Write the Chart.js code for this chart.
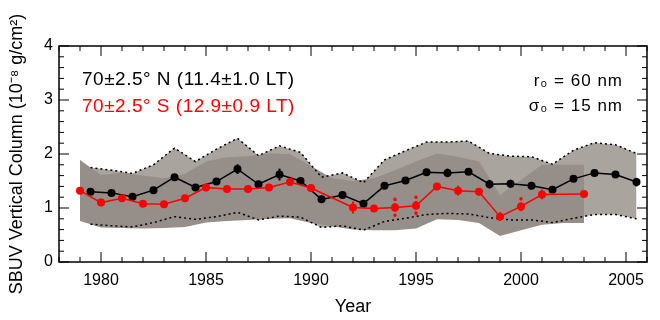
<!DOCTYPE html>
<html>
<head>
<meta charset="utf-8">
<script src="https://cdn.jsdelivr.net/npm/chart.js@4/dist/chart.umd.min.js"></script>
<style>
  body { margin: 0; background: #fff; }
</style>
</head>
<body>
<canvas id="myChart" width="660" height="320"></canvas>
<script>
// 70N series, half-year points
var nYears = [1979.5,1980.5,1981.5,1982.5,1983.5,1984.5,1985.5,1986.5,1987.5,1988.5,1989.5,1990.5,1991.5,1992.5,
              1993.5,1994.5,1995.5,1996.5,1997.5,1998.5,1999.5,2000.5,2001.5,2002.5,2003.5,2004.5,2005.5];
var nValues = [1.30,1.28,1.21,1.33,1.57,1.38,1.49,1.72,1.44,1.62,1.50,1.16,1.24,1.08,
               1.41,1.51,1.66,1.65,1.67,1.44,1.45,1.41,1.34,1.54,1.65,1.62,1.48];
var nErr = [0,0,0,0,0,0,0,0.09,0,0.11,0,0,0,0,
            0,0,0,0.08,0,0.08,0.07,0,0,0,0,0,0.08];
var nTop = [1.75,1.70,1.64,1.80,2.11,1.86,2.09,2.29,1.97,2.15,2.03,1.57,1.65,1.47,
            1.89,2.06,2.22,2.22,2.24,2.01,1.96,1.95,1.81,2.07,2.21,2.17,2.01];
var nBottom = [0.70,0.67,0.65,0.73,0.84,0.79,0.84,0.92,0.78,0.85,0.83,0.64,0.67,0.59,
               0.75,0.81,0.88,0.90,0.89,0.82,0.78,0.78,0.73,0.81,0.88,0.88,0.80];

// 70S series (no points in 1991 and 2002)
var sYears = [1979,1980,1981,1982,1983,1984,1985,1986,1987,1988,1989,1990,
              1992,1993,1994,1995,1996,1997,1998,1999,2000,2001,2003];
var sValues = [1.32,1.10,1.18,1.08,1.07,1.18,1.38,1.35,1.35,1.38,1.48,1.37,
               1.01,0.99,1.01,1.04,1.40,1.32,1.30,0.84,1.03,1.25,1.26];
var sErr = [0,0,0,0,0,0,0,0,0,0,0,0,
            0.11,0,0.15,0.16,0,0.09,0.07,0.08,0.14,0.09,0];
var sDottedYears = [1994,1995,2000];

// 70S band, yearly
var sBandYears = [1979,1980,1981,1982,1983,1984,1985,1986,1987,1988,1989,1990,1991,
                  1992,1993,1994,1995,1996,1997,1998,1999,2000,2001,2002,2003];
var sTop = [1.89,1.61,1.65,1.60,1.55,1.63,1.86,1.94,1.96,2.01,2.00,1.78,1.55,
            1.50,1.55,1.70,1.86,2.01,1.95,1.86,1.24,1.52,1.80,1.80,1.80];
var sBottom = [0.76,0.64,0.63,0.62,0.63,0.65,0.73,0.76,0.78,0.80,0.81,0.72,0.66,
               0.60,0.59,0.59,0.62,0.79,0.78,0.72,0.48,0.59,0.69,0.72,0.72];

var xTicks = [1980,1985,1990,1995,2000,2005];
var yTicks = [0,1,2,3,4];

function pts(xs, ys) {
  return xs.map(function (x, i) { return {x: x, y: ys[i]}; });
}

// frame with inward ticks (IDL style)
var frameTicks = {
  id: 'frameTicks',
  afterDatasetsDraw: function (chart) {
    var ctx = chart.ctx, a = chart.chartArea, x = chart.scales.x, y = chart.scales.y;
    ctx.save();
    ctx.strokeStyle = '#000';
    ctx.lineWidth = 1;
    ctx.beginPath();
    for (var v = 1978; v <= 2006; v++) {
      var px = x.getPixelForValue(v);
      var len = (v % 5 === 0) ? 10 : 5;
      ctx.moveTo(px, a.bottom); ctx.lineTo(px, a.bottom - len);
      ctx.moveTo(px, a.top); ctx.lineTo(px, a.top + len);
    }
    for (var k = 0; k <= 20; k++) {
      var py = y.getPixelForValue(k * 0.2);
      var l2 = (k % 5 === 0) ? 10 : 5;
      ctx.moveTo(a.left, py); ctx.lineTo(a.left + l2, py);
      ctx.moveTo(a.right, py); ctx.lineTo(a.right - l2, py);
    }
    ctx.stroke();
    ctx.lineWidth = 1.5;
    ctx.strokeRect(a.left, a.top, a.right - a.left, a.bottom - a.top);
    ctx.restore();
  }
};

// vertical error bars
var errorBars = {
  id: 'errorBars',
  afterDatasetsDraw: function (chart) {
    var ctx = chart.ctx, x = chart.scales.x, y = chart.scales.y;
    ctx.save();
    function bar(xv, yv, e, color, dotted) {
      if (!e) return;
      ctx.strokeStyle = color;
      ctx.lineWidth = dotted ? 3.5 : 2;
      ctx.lineCap = dotted ? 'round' : 'butt';
      ctx.setLineDash(dotted ? [0.1, 5.2] : []);
      ctx.beginPath();
      ctx.moveTo(x.getPixelForValue(xv), y.getPixelForValue(yv + e));
      ctx.lineTo(x.getPixelForValue(xv), y.getPixelForValue(yv - e));
      ctx.stroke();
    }
    nYears.forEach(function (yr, i) { bar(yr, nValues[i], nErr[i], '#000', false); });
    sYears.forEach(function (yr, i) { bar(yr, sValues[i], sErr[i], '#ff0000', sDottedYears.indexOf(yr) >= 0); });
    ctx.restore();
  }
};

var labels = {
  id: 'labels',
  afterDraw: function (chart) {
    var ctx = chart.ctx;
    ctx.save();
    ctx.letterSpacing = '0.5px';
    ctx.font = '19px "Liberation Sans", Arial, sans-serif';
    ctx.textAlign = 'left';
    ctx.fillStyle = '#000';
    ctx.fillText('70\u00b12.5\u00b0 N (11.4\u00b11.0 LT)', 82, 85);
    ctx.fillStyle = '#ff0000';
    ctx.fillText('70\u00b12.5\u00b0 S (12.9\u00b10.9 LT)', 82, 112);
    ctx.letterSpacing = '1px';
    ctx.font = '17px "Liberation Sans", Arial, sans-serif';
    ctx.fillStyle = '#000';
    ctx.textAlign = 'right';
    ctx.fillText('r\u2080 = 60 nm', 623, 86);
    ctx.fillText('\u03c3\u2080 = 15 nm', 623, 111);
    ctx.restore();
  }
};

var tickFont = {family: '"Liberation Sans", Arial, sans-serif', size: 16};
var titleFont = {family: '"Liberation Sans", Arial, sans-serif', size: 18};

new Chart('myChart', {
  type: 'line',
  data: {
    datasets: [
      { data: pts(sYears, sValues), borderColor: '#ff0000', backgroundColor: '#ff0000',
        borderWidth: 1.5, pointRadius: 4, pointBorderWidth: 0, fill: false },
      { data: pts(nYears, nValues), borderColor: '#000', backgroundColor: '#000',
        borderWidth: 1.5, pointRadius: 4, pointBorderWidth: 0, fill: false },
      { data: pts(sBandYears, sTop), borderWidth: 0, pointRadius: 0, fill: false },
      { data: pts(sBandYears, sBottom), borderWidth: 0, pointRadius: 0,
        fill: '-1', backgroundColor: '#958e89' },
      { data: pts(nYears, nTop), borderColor: '#000', borderWidth: 1.5, borderDash: [2, 3],
        pointRadius: 0, fill: false },
      { data: pts(nYears, nBottom), borderColor: '#000', borderWidth: 1.5, borderDash: [2, 3],
        pointRadius: 0, fill: '-1', backgroundColor: '#aaa49f' }
    ]
  },
  options: {
    responsive: false,
    animation: false,
    layout: {padding: {top: 46, right: 13, left: 0, bottom: 0}},
    plugins: {
      legend: {display: false},
      tooltip: {enabled: false},
      filler: {drawTime: 'beforeDatasetsDraw'}
    },
    scales: {
      x: {
        type: 'linear', min: 1978, max: 2006,
        grid: {display: false, drawTicks: false},
        border: {display: false},
        afterBuildTicks: function (s) { s.ticks = xTicks.map(function (v) { return {value: v}; }); },
        afterFit: function (s) { s.height = 58; },
        ticks: {color: '#000', font: tickFont, padding: 9, maxRotation: 0, autoSkip: false,
                callback: function (v) { return String(v); }},
        title: {display: true, text: 'Year', color: '#000', font: titleFont, padding: {top: 0, bottom: 2}}
      },
      y: {
        min: 0, max: 4,
        grid: {display: false, drawTicks: false},
        border: {display: false},
        afterBuildTicks: function (s) { s.ticks = yTicks.map(function (v) { return {value: v}; }); },
        afterFit: function (s) { s.width = 59; },
        ticks: {color: '#000', font: tickFont, padding: 6},
        title: {display: true, text: 'SBUV Vertical Column (10\u207b\u2078 g/cm\u00b2)', color: '#000',
                font: titleFont, padding: {top: 6, bottom: 0}}
      }
    }
  },
  plugins: [frameTicks, errorBars, labels]
});
</script>
</body>
</html>
